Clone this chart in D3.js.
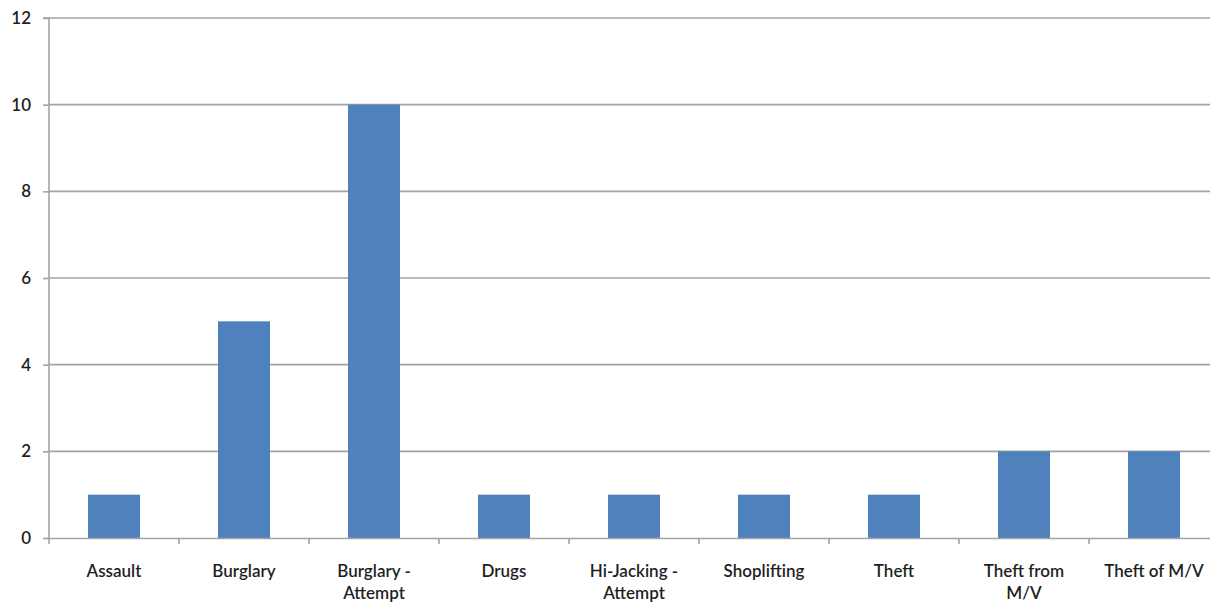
<!DOCTYPE html>
<html><head><meta charset="utf-8">
<script src="https://cdn.jsdelivr.net/npm/d3@7"></script>
<style>
body{margin:0;background:#fff;}
text{font-family:Lato,"Open Sans",sans-serif;fill:#1f1f1f;}
</style></head>
<body><svg id="c" width="1210" height="603"></svg>
<script>
const categories = ["Assault","Burglary","Burglary - Attempt","Drugs","Hi-Jacking - Attempt","Shoplifting","Theft","Theft from M/V","Theft of M/V"];
const values = [1,5,10,1,1,1,1,2,2];
const yTicks = [0,2,4,6,8,10,12];

const svg = d3.select("#c");
const mLeft = 49, mRight = 1219, mTop = 18, mBottom = 538;
const x = d3.scaleBand().domain(categories).range([mLeft, mRight]).padding(0);
const y = d3.scaleLinear().domain([0,12]).range([mBottom, mTop]);
const fs = "17px", fw = 600;

// gridlines
svg.append("g").selectAll("line").data(yTicks.filter(d=>d>0)).join("line")
  .attr("x1", mLeft).attr("x2", mRight).attr("y1", d=>y(d)).attr("y2", d=>y(d))
  .attr("stroke", "#a3a3a3").attr("stroke-width", 1.6);

// bars
const bw = x.step()*0.4;
svg.append("g").selectAll("rect").data(values).join("rect")
  .attr("x", (d,i)=>x(categories[i]) + x.bandwidth()/2 - bw/2)
  .attr("width", bw)
  .attr("y", d=>y(d)).attr("height", d=>y(0)-y(d))
  .attr("fill", "#4f81bd");

// y axis
const ya = svg.append("g").attr("transform", `translate(${mLeft},0)`)
  .call(d3.axisLeft(y).tickValues(yTicks).tickSize(6).tickPadding(12).tickFormat(d3.format("d")));
ya.select(".domain").attr("stroke","#a3a3a3").attr("stroke-width",1.6).attr("d", `M-6,${mTop}H0V${mBottom}`);
ya.selectAll(".tick line").attr("stroke","#a3a3a3").attr("stroke-width",1.6);
ya.selectAll(".tick text").style("font-size",fs).style("font-weight",fw).attr("font-family",null);

// x axis
const xa = svg.append("g").attr("transform", `translate(0,${mBottom})`)
  .call(d3.axisBottom(x).tickSize(0).tickPadding(0));
xa.select(".domain").attr("stroke","#a3a3a3").attr("stroke-width",1.6);
xa.append("g").selectAll("line").data(d3.range(categories.length+1)).join("line")
  .attr("x1", i=>mLeft + i*x.step()).attr("x2", i=>mLeft + i*x.step())
  .attr("y1", 0).attr("y2", 6).attr("stroke","#a3a3a3").attr("stroke-width",1.6);
const ly = 39, lh = 22;
xa.selectAll(".tick text").style("font-size",fs).style("font-weight",fw).attr("font-family",null).attr("y", ly).attr("dy", null)
  .each(function(d){
    const t = d3.select(this);
    const words = d.split(" ");
    t.text(null);
    let line = [], lineNo = 0;
    let ts = t.append("tspan").attr("x",0).attr("y",ly);
    for (const w of words) {
      line.push(w);
      ts.text(line.join(" "));
      if (ts.node().getComputedTextLength() > 115 && line.length > 1) {
        line.pop(); ts.text(line.join(" "));
        line = [w]; lineNo++;
        ts = t.append("tspan").attr("x",0).attr("y",ly + lineNo*lh).text(w);
      }
    }
  });
</script></body></html>
